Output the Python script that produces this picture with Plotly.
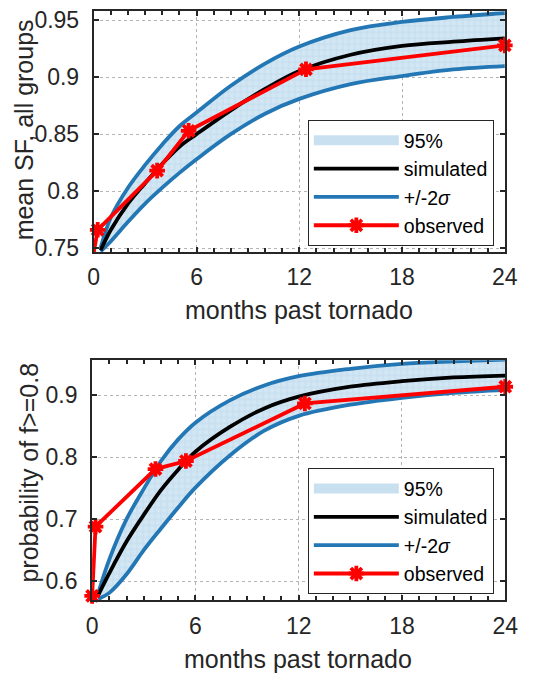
import plotly.graph_objects as go

W, H = 533, 682

# ---------------- data ----------------
# top panel: mean SF, all groups
top_sim_months = [0.4, 1, 2, 3, 4, 5, 6, 8, 10, 12, 15, 18, 21, 24]
top_sim = [0.748, 0.766, 0.789, 0.807, 0.824, 0.839, 0.850, 0.871, 0.8897, 0.9055, 0.9198, 0.9276, 0.9313, 0.9342]
top_upper = [0.750, 0.777, 0.803, 0.823, 0.841, 0.857, 0.869, 0.8925, 0.912, 0.927, 0.9414, 0.9486, 0.953, 0.9565]
top_lower = [0.747, 0.756, 0.773, 0.789, 0.803, 0.816, 0.828, 0.850, 0.868, 0.881, 0.894, 0.9011, 0.9069, 0.9098]
top_obs_months = [0, 0.23, 3.7, 5.54, 12.39, 24]
top_obs = [0.746, 0.766, 0.818, 0.853, 0.907, 0.928]

# bottom panel: probability of f>=0.8
bot_sim_months = [0.35, 1, 2, 3, 4, 5, 6, 8, 10, 12, 15, 18, 21, 24]
bot_sim = [0.577, 0.613, 0.664, 0.707, 0.747, 0.780, 0.809, 0.849, 0.879, 0.898, 0.914, 0.923, 0.929, 0.932]
bot_upper = [0.580, 0.635, 0.700, 0.749, 0.794, 0.829, 0.856, 0.892, 0.916, 0.931, 0.943, 0.951, 0.955, 0.958]
bot_lower = [0.571, 0.581, 0.611, 0.650, 0.685, 0.719, 0.751, 0.803, 0.843, 0.867, 0.885, 0.896, 0.904, 0.909]
bot_obs_months = [0, 0.2, 3.68, 5.45, 12.36, 24]
bot_obs = [0.576, 0.688, 0.781, 0.794, 0.887, 0.914]

x_ticks = [0, 6, 12, 18, 24]
x_ticklabels = ["0", "6", "12", "18", "24"]
top_yticks = [0.75, 0.8, 0.85, 0.9, 0.95]
top_yticklabels = ["0.75", "0.8", "0.85", "0.9", "0.95"]
bot_yticks = [0.6, 0.7, 0.8, 0.9]
bot_yticklabels = ["0.6", "0.7", "0.8", "0.9"]

legend_names = ["95%", "simulated", "+/-2<i>σ</i>", "observed"]
x_title = "months past tornado"
top_y_title = "mean SF, all groups"
bot_y_title = "probability of f>=0.8"

# ---------------- style ----------------
FONT = "Liberation Sans, Arial, Helvetica, sans-serif"
TXT = "#262626"
BLUE = "#2377b4"
FILL_BG = "#d2e6f3"
FILL_FG = "#a3cbe6"
LEG_PATCH = "#c9e0f0"
RED = "#ff0000"

fig = go.Figure()


def add_panel(xs, sim, up, lo, ox, oy, xa, ya, leg):
    fig.add_trace(go.Scatter(x=xs, y=lo, mode="lines", line=dict(width=0, shape="spline"),
                             showlegend=False, hoverinfo="skip", xaxis=xa, yaxis=ya, legend=leg))
    fig.add_trace(go.Scatter(x=xs, y=up, mode="lines", line=dict(width=0, shape="spline"),
                             fill="tonexty", fillcolor=FILL_BG,
                             fillpattern=dict(shape="+", bgcolor=FILL_BG, fgcolor=FILL_FG,
                                              size=6, solidity=0.2),
                             showlegend=False, xaxis=xa, yaxis=ya, legend=leg))
    # legend proxy for the shaded 95% band (no data, legend swatch only)
    fig.add_trace(go.Scatter(x=[None], y=[None], mode="lines",
                             line=dict(color=LEG_PATCH, width=19),
                             name=legend_names[0], legendrank=1,
                             xaxis=xa, yaxis=ya, legend=leg))
    fig.add_trace(go.Scatter(x=xs, y=up, mode="lines", line=dict(color=BLUE, width=3.8, shape="spline"),
                             name=legend_names[2], legendrank=3, legendgroup="sig" + leg,
                             xaxis=xa, yaxis=ya, legend=leg))
    fig.add_trace(go.Scatter(x=xs, y=lo, mode="lines", line=dict(color=BLUE, width=3.8, shape="spline"),
                             showlegend=False, legendgroup="sig" + leg,
                             xaxis=xa, yaxis=ya, legend=leg))
    fig.add_trace(go.Scatter(x=xs, y=sim, mode="lines", line=dict(color="black", width=3.8, shape="spline"),
                             name=legend_names[1], legendrank=2,
                             xaxis=xa, yaxis=ya, legend=leg))
    fig.add_trace(go.Scatter(x=ox, y=oy, mode="lines+markers", line=dict(color=RED, width=3.8),
                             marker=dict(symbol="asterisk-open", size=13, color=RED,
                                         line=dict(color=RED, width=3.8)),
                             cliponaxis=False,
                             name=legend_names[3], legendrank=4,
                             xaxis=xa, yaxis=ya, legend=leg))


add_panel(top_sim_months, top_sim, top_upper, top_lower, top_obs_months, top_obs, "x", "y", "legend")
add_panel(bot_sim_months, bot_sim, bot_upper, bot_lower, bot_obs_months, bot_obs, "x2", "y2", "legend2")

axis_common = dict(
    showline=True, linecolor=TXT, linewidth=2, mirror="ticks",
    ticks="inside", ticklen=5, tickwidth=1.5, tickcolor=TXT,
    showgrid=True, gridcolor="#b4b4b4", gridwidth=1, griddash="dot",
    zeroline=False, tickfont=dict(family=FONT, size=23, color=TXT),
)

xaxis_common = dict(axis_common, range=[0, 24], tickvals=x_ticks, ticktext=x_ticklabels,
                    minor=dict(dtick=1, tick0=0, ticks="inside", ticklen=4, tickwidth=1.5,
                               tickcolor=TXT, showgrid=False),
                    ticklabelstandoff=4)

legend_common = dict(xanchor="left", yanchor="top",
                     bgcolor="white", bordercolor=TXT, borderwidth=1,
                     font=dict(family=FONT, size=19.5, color="black"), itemwidth=85,
                     traceorder="normal", tracegroupgap=0)

fig.update_layout(
    width=W, height=H,
    margin=dict(l=0, r=0, t=0, b=0, pad=0),
    paper_bgcolor="white", plot_bgcolor="white",
    font=dict(family=FONT, color=TXT),
    xaxis=dict(xaxis_common, domain=[91 / W, 517.3 / W], anchor="y"),
    yaxis=dict(axis_common, domain=[1 - 252.7 / H, 1 - 7.3 / H], anchor="x",
               range=[0.7466, 0.9581], tickvals=top_yticks, ticktext=top_yticklabels,
               ticklabelstandoff=8),
    xaxis2=dict(xaxis_common, domain=[89.3 / W, 517.7 / W], anchor="y2"),
    yaxis2=dict(axis_common, domain=[1 - 607.7 / H, 1 - 363.3 / H], anchor="x2",
                range=[0.5693, 0.9566], tickvals=bot_yticks, ticktext=bot_yticklabels,
                ticklabelstandoff=8),
    legend=dict(legend_common, x=313 / W, y=1 - 118.3 / H),
    legend2=dict(legend_common, x=313 / W, y=1 - 473.3 / H),
    showlegend=True,
)

title_font = dict(family=FONT, size=25, color=TXT)
annots = [
    dict(text=x_title, x=303.5 / W, y=1 - 312 / H, xref="paper", yref="paper",
         xanchor="center", yanchor="middle", showarrow=False, font=title_font),
    dict(text=x_title, x=303 / W, y=1 - 668 / H, xref="paper", yref="paper",
         xanchor="center", yanchor="middle", showarrow=False, font=title_font),
    dict(text=top_y_title, x=19 / W, y=1 - 128.5 / H, xref="paper", yref="paper",
         xanchor="center", yanchor="middle", showarrow=False, textangle=-90, font=title_font),
    dict(text=bot_y_title, x=24 / W, y=1 - 477.5 / H, xref="paper", yref="paper",
         xanchor="center", yanchor="middle", showarrow=False, textangle=-90, font=title_font),
]
fig.update_layout(annotations=annots)

fig.write_html("out.html", config={"displayModeBar": False},
               post_script="document.body.style.margin='0px';document.body.style.overflow='hidden';")
